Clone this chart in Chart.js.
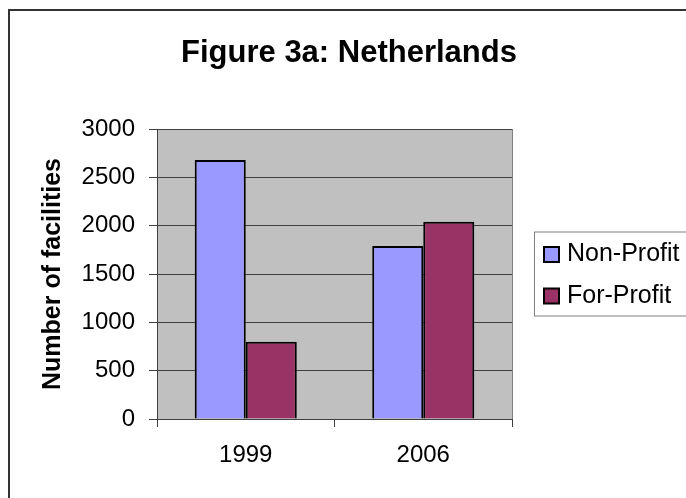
<!DOCTYPE html>
<html><head><meta charset="utf-8">
<script src="https://cdn.jsdelivr.net/npm/chart.js@4/dist/chart.umd.min.js"></script>
<style>html,body{margin:0;padding:0;background:#fff;}#wrap{width:686px;height:498px;position:relative}</style>
</head><body><div id="wrap"><canvas id="c" width="686" height="498"></canvas></div>
<script>
const categories = ['1999', '2006'];
const seriesNames = ['Non-Profit', 'For-Profit'];
const nonProfit = [2680, 1790];
const forProfit = [800, 2040];
const yTicks = [0, 500, 1000, 1500, 2000, 2500, 3000];
const titleText = 'Figure 3a: Netherlands';
const yTitle = 'Number of facilities';

const FONT = "'Liberation Sans', Arial, sans-serif";

const decor = {
  id: 'decor',
  beforeDraw(chart) {
    const {ctx, chartArea: a} = chart;
    ctx.save();
    ctx.fillStyle = '#fff';
    ctx.fillRect(0, 0, chart.width, chart.height);
    ctx.fillStyle = '#C0C0C0';
    ctx.fillRect(a.left, a.top, a.right - a.left, a.bottom - a.top);
    ctx.restore();
  },
  afterDraw(chart) {
    const {ctx, chartArea: a} = chart;
    ctx.save();
    // plot right border
    ctx.strokeStyle = '#808080';
    ctx.lineWidth = 1;
    ctx.beginPath();
    ctx.moveTo(Math.round(a.right) + 0.5, a.top);
    ctx.lineTo(Math.round(a.right) + 0.5, a.bottom);
    ctx.stroke();
    // outer border (top and left)
    ctx.fillStyle = '#333';
    ctx.fillRect(8, 9, chart.width, 2);
    ctx.fillRect(8, 9, 2, chart.height);
    // chart title
    ctx.fillStyle = '#000';
    ctx.font = 'bold 31px ' + FONT;
    ctx.textAlign = 'center';
    ctx.textBaseline = 'alphabetic';
    ctx.fillText(titleText, 349, 62);
    // legend
    const lx = 534, ly = 231.5, lh = 84;
    ctx.fillStyle = '#fff';
    ctx.fillRect(lx, ly, chart.width - lx + 10, lh);
    ctx.strokeStyle = '#808080';
    ctx.lineWidth = 1;
    ctx.strokeRect(lx + 0.5, ly + 0.5, chart.width - lx + 10, lh);
    ctx.font = '25px ' + FONT;
    ctx.textBaseline = 'middle';
    ctx.textAlign = 'left';
    chart.data.datasets.forEach((ds, i) => {
      const cy = 254.5 + i * 41.5;
      ctx.fillStyle = ds.backgroundColor;
      ctx.fillRect(544, cy - 7.5, 15, 15);
      ctx.strokeStyle = '#000';
      ctx.lineWidth = 2;
      ctx.strokeRect(544, cy - 7.5, 15, 15);
      ctx.fillStyle = '#000';
      ctx.fillText(ds.label, 567, cy);
    });
    ctx.restore();
  }
};

new Chart(document.getElementById('c'), {
  type: 'bar',
  data: {
    labels: categories,
    datasets: [
      {label: seriesNames[0], data: nonProfit, backgroundColor: '#9999FF', borderColor: '#000', borderWidth: 2,
       categoryPercentage: 0.575, barPercentage: 1.0},
      {label: seriesNames[1], data: forProfit, backgroundColor: '#993366', borderColor: '#000', borderWidth: 2,
       categoryPercentage: 0.575, barPercentage: 1.0}
    ]
  },
  options: {
    responsive: false,
    animation: false,
    devicePixelRatio: 1,
    layout: {padding: {left: 0, right: 174, top: 129, bottom: 0}},
    plugins: {
      legend: {display: false},
      tooltip: {enabled: false},
      title: {display: false}
    },
    scales: {
      x: {
        offset: true,
        grid: {offset: true, drawOnChartArea: false, color: '#404040', tickLength: 8},
        border: {color: '#404040', width: 1},
        ticks: {color: '#000', font: {family: FONT, size: 24}, padding: 14},
        afterFit(s) { s.height = 79; }
      },
      y: {
        min: 0, max: 3000,
        afterBuildTicks(s) { s.ticks = yTicks.map(v => ({value: v})); },
        grid: {color: '#404040', tickLength: 8},
        border: {color: '#404040', width: 1},
        ticks: {color: '#000', font: {family: FONT, size: 24}, padding: 14, callback: v => String(v)},
        title: {display: true, text: yTitle, color: '#000', font: {family: FONT, size: 25, weight: 'bold'}, padding: {top: 38, bottom: 0}},
        afterFit(s) { s.width = 157; }
      }
    }
  },
  plugins: [decor]
});
</script>
</body></html>
